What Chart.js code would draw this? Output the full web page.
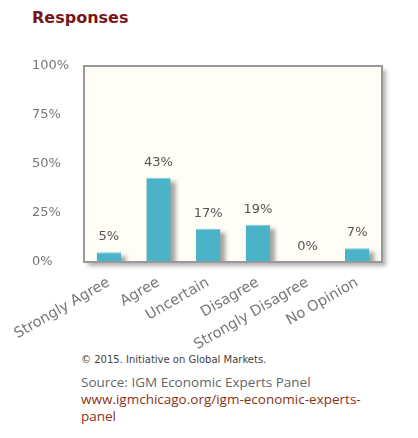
<!DOCTYPE html>
<html>
<head>
<meta charset="utf-8">
<script src="https://cdn.jsdelivr.net/npm/chart.js@4.4.0/dist/chart.umd.min.js"></script>
<style>
  html, body { margin: 0; padding: 0; background: #fff; }
  body { width: 418px; height: 438px; position: relative; overflow: hidden; }
  #title {
    position: absolute; left: 32px; top: 8px;
    font: bold 16px "DejaVu Sans", Verdana, sans-serif; color: #7a1618;
  }
  #wrap { position: absolute; left: 0; top: 0; width: 418px; height: 350px; }
  #copy {
    position: absolute; left: 81px; top: 354px;
    font: 10px "DejaVu Sans", Verdana, sans-serif; color: #444;
  }
  #source {
    position: absolute; left: 81px; top: 374px;
    font: 13.5px "Open Sans", "Noto Sans", sans-serif; line-height: 17px; color: #666;
  }
  #source .url { color: #8b3214; }
</style>
</head>
<body>
<div id="title">Responses</div>
<div id="wrap"><canvas id="responsesChart"></canvas></div>
<div id="copy">© 2015. Initiative on Global Markets.</div>
<div id="source">Source: IGM Economic Experts Panel<br>
<span class="url">www.igmchicago.org/igm-economic-experts-<br>panel</span></div>
<script>
// survey answers, in percent
const categories = ['Strongly Agree', 'Agree', 'Uncertain', 'Disagree', 'Strongly Disagree', 'No Opinion'];
const shares = [5, 43, 17, 19, 0, 7];
const yTicks = [0, 25, 50, 75, 100];

// cream plot box with grey frame, soft shadows, value labels
const plotBox = {
  id: 'plotBox',
  beforeDatasetsDraw(chart) {
    const { ctx, chartArea: a } = chart;
    const w = a.right - a.left, h = a.bottom - a.top;
    ctx.save();
    ctx.filter = 'blur(2px)';
    ctx.fillStyle = 'rgba(0,0,0,0.3)';
    ctx.fillRect(a.left + 4, a.top + 4, w, h);
    ctx.restore();
    ctx.save();
    ctx.fillStyle = '#fffdf5';
    ctx.fillRect(a.left, a.top, w, h);
    // bar shadows
    ctx.beginPath();
    ctx.rect(a.left, a.top, w, h);
    ctx.clip();
    ctx.filter = 'blur(2px)';
    ctx.fillStyle = 'rgba(0,0,0,0.35)';
    chart.getDatasetMeta(0).data.forEach(bar => {
      const bw = bar.width;
      if (bar.base - bar.y < 1) return;
      ctx.fillRect(bar.x - bw / 2 + 5, bar.y + 4, bw, bar.base - bar.y);
    });
    ctx.restore();
  },
  afterDatasetsDraw(chart) {
    const { ctx, chartArea: a } = chart;
    ctx.save();
    ctx.strokeStyle = '#999';
    ctx.lineWidth = 2;
    ctx.strokeRect(a.left, a.top, a.right - a.left, a.bottom - a.top);
    ctx.restore();

    const meta = chart.getDatasetMeta(0);
    ctx.save();
    ctx.font = '13px "DejaVu Sans", Verdana, sans-serif';
    ctx.fillStyle = '#555';
    ctx.textAlign = 'center';
    ctx.textBaseline = 'bottom';
    meta.data.forEach((bar, i) => {
      ctx.fillText(shares[i] + '%', bar.x, bar.y - 9);
    });
    ctx.restore();
  }
};

const ctx = document.getElementById('responsesChart').getContext('2d');
new Chart(ctx, {
  type: 'bar',
  data: {
    labels: categories,
    datasets: [{
      data: shares,
      backgroundColor: '#4bb3c7',
      borderColor: '#7ccbda',
      borderWidth: { top: 1, left: 0, right: 0, bottom: 0 },
      borderSkipped: false,
      categoryPercentage: 1,
      barPercentage: 0.49
    }]
  },
  options: {
    responsive: true,
    maintainAspectRatio: false,
    animation: false,
    layout: {
      padding: { top: 66, left: 32, right: 36, bottom: 0 }
    },
    plugins: {
      legend: { display: false },
      tooltip: { enabled: false }
    },
    scales: {
      x: {
        grid: { display: false },
        border: { display: false },
        ticks: {
          color: '#777',
          font: { family: 'DejaVu Sans', size: 14.5 },
          minRotation: 30,
          maxRotation: 30,
          padding: 4
        },
        afterFit(scale) { scale.height = 88; }
      },
      y: {
        min: 0,
        max: 100,
        grid: { display: false },
        border: { display: false },
        afterBuildTicks(scale) { scale.ticks = yTicks.map(v => ({ value: v })); },
        ticks: {
          color: '#777',
          font: { family: 'DejaVu Sans', size: 13 },
          crossAlign: 'far',
          callback: v => v + '%'
        },
        afterFit(scale) { scale.width = 52; }
      }
    }
  },
  plugins: [plotBox]
});
</script>
</body>
</html>
